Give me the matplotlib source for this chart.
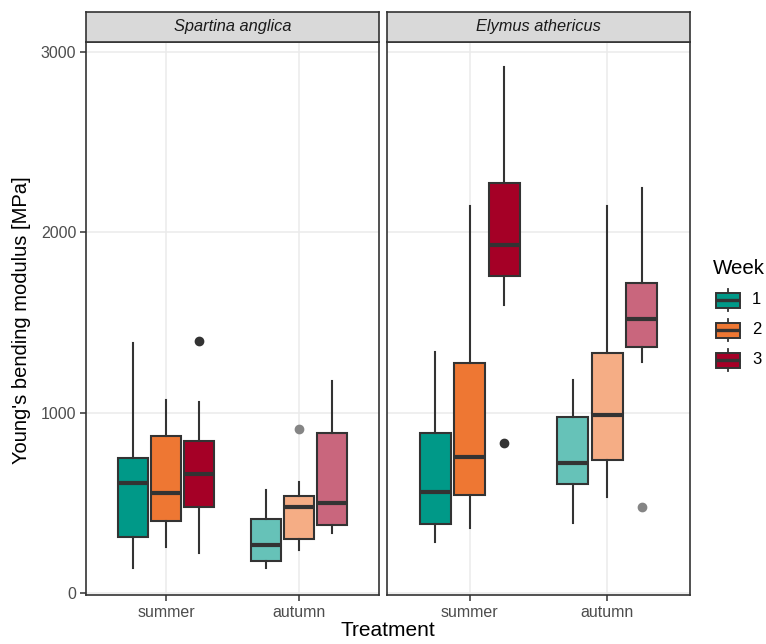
import numpy as np
import matplotlib.pyplot as plt
from matplotlib.patches import Rectangle

plt.rcParams['font.family'] = ['Liberation Sans', 'DejaVu Sans']

species = ['Spartina anglica', 'Elymus athericus']
seasons = ['summer', 'autumn']
weeks = ['1', '2', '3']

# box statistics per species -> season -> week: (whislo, q1, med, q3, whishi)
spartina_summer = [(137, 309, 612, 747, 1388),
                   (257, 399, 556, 873, 1069),
                   (220, 479, 658, 843, 1058)]
spartina_autumn = [(137, 179, 266, 409, 571),
                   (238, 301, 477, 540, 614),
                   (331, 377, 497, 887, 1176)]
elymus_summer = [(285, 382, 561, 885, 1337),
                 (363, 546, 752, 1273, 2144),
                 (1596, 1760, 1930, 2273, 2916)]
elymus_autumn = [(390, 602, 721, 977, 1183),
                 (532, 737, 986, 1333, 2144),
                 (1283, 1366, 1522, 1721, 2247)]

# outliers
spartina_summer_out = [[], [], [1398]]
spartina_autumn_out = [[], [911], []]
elymus_summer_out = [[], [], [832]]
elymus_autumn_out = [[], [], [478]]

stats = {
    'Spartina anglica': {'summer': (spartina_summer, spartina_summer_out),
                         'autumn': (spartina_autumn, spartina_autumn_out)},
    'Elymus athericus': {'summer': (elymus_summer, elymus_summer_out),
                         'autumn': (elymus_autumn, elymus_autumn_out)},
}

colors = ['#009988', '#EE7733', '#A50026']
season_alpha = {'summer': 1.0, 'autumn': 0.6}
edge = '#333333'

W, H = 766, 644
fig = plt.figure(figsize=(W / 100, H / 100), dpi=100)


def px_axes(left, top, right, bottom):
    return fig.add_axes([left / W, 1 - bottom / H, (right - left) / W, (bottom - top) / H])


def blend(c, a):
    rgb = np.array(plt.matplotlib.colors.to_rgb(c))
    return tuple(a * rgb + (1 - a) * 1.0)


panels = [(86, 379), (387, 690)]
offsets = [-0.25, 0.0, 0.25]
bw = 0.225

for i, sp in enumerate(species):
    left, right = panels[i]
    ax = px_axes(left, 42, right, 595)
    for s_i, season in enumerate(seasons):
        boxes, outs = stats[sp][season]
        a = season_alpha[season]
        for w_i in range(3):
            lo, q1, med, q3, hi = boxes[w_i]
            st = [dict(whislo=lo, q1=q1, med=med, q3=q3, whishi=hi, fliers=outs[w_i])]
            pos = s_i + 1 + offsets[w_i]
            ax.bxp(st, positions=[pos], widths=bw, patch_artist=True,
                   showcaps=False,
                   boxprops=dict(facecolor=blend(colors[w_i], a), edgecolor=edge, linewidth=1.5),
                   whiskerprops=dict(color=edge, linewidth=1.5),
                   medianprops=dict(color=edge, linewidth=3.0, solid_capstyle='butt'),
                   flierprops=dict(marker='o', markersize=6,
                                   markerfacecolor=blend(edge, a),
                                   markeredgecolor=blend(edge, a)),
                   zorder=3)
    ax.set_xlim(0.4, 2.6)
    ax.set_ylim(-11, 3056)
    ax.set_xticks([1, 2])
    ax.set_xticklabels(seasons, fontsize=11.5, color='#4D4D4D')
    ax.set_yticks([0, 1000, 2000, 3000])
    if i == 0:
        ax.set_yticklabels(['0', '1000', '2000', '3000'], fontsize=11.5, color='#4D4D4D')
    else:
        ax.set_yticklabels([])
    ax.tick_params(axis='both', color='#333333', width=1.1, length=4, pad=3)
    if i == 1:
        ax.tick_params(axis='y', length=0)
    ax.grid(True, color='#EBEBEB', linewidth=1.1, zorder=0)
    ax.set_axisbelow(True)
    for sp_ in ax.spines.values():
        sp_.set_color('#333333')
        sp_.set_linewidth(1.2)

    strip = px_axes(left, 12, right, 42)
    strip.set_facecolor('#D9D9D9')
    strip.set_xticks([])
    strip.set_yticks([])
    for sp_ in strip.spines.values():
        sp_.set_color('#333333')
        sp_.set_linewidth(1.2)
    strip.text(0.5, 0.5, sp, ha='center', va='center', style='italic',
               fontsize=11.8, color='#1A1A1A', transform=strip.transAxes)

fig.text(22 / W, 1 - 320 / H, "Young's bending modulus [MPa]", rotation=90,
         ha='center', va='center', fontsize=14.5)
fig.text(388 / W, 1 - 631 / H, 'Treatment', ha='center', va='center', fontsize=15)

# legend drawn in pixel units
leg = px_axes(705, 250, 766, 380)
leg.set_xlim(705, 766)
leg.set_ylim(380, 250)
leg.axis('off')
leg.text(713, 268, 'Week', fontsize=14.8, va='center', ha='left')
for w_i, wk in enumerate(weeks):
    cy = 300 + 30 * w_i
    leg.plot([728, 728], [cy - 11, cy + 11], color=edge, linewidth=1.3, zorder=1)
    leg.add_patch(Rectangle((716, cy - 7.5), 24, 15, facecolor=colors[w_i],
                            edgecolor=edge, linewidth=1.4, zorder=2))
    leg.plot([716, 740], [cy, cy], color=edge, linewidth=2.4, zorder=3,
             solid_capstyle='butt')
    leg.text(752, cy, wk, fontsize=12, va='center', ha='left')

fig.savefig('out.png', dpi=100)
